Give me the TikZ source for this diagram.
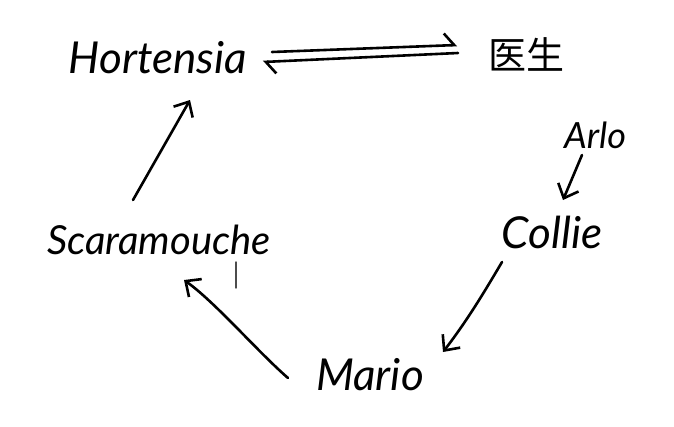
\documentclass[tikz,border=0pt]{standalone}
\usepackage{fontspec}
\setmainfont{Lato}
\newfontfamily\cjkfont{Noto Sans CJK SC}
\usetikzlibrary{arrows.meta}
\tikzset{
	person/.style={font=\fontsize{44}{48}\selectfont\itshape, inner sep=0pt},
	hanzi/.style={font=\fontsize{38}{42}\selectfont\cjkfont, inner sep=0pt},
	harp/.style={-{Straight Barb[harpoon, length=10pt, width=24pt]}},
}
\begin{document}
\begin{tikzpicture}[x=1pt, y=-1pt, >={Straight Barb[length=12pt, width=22pt]}, line width=2.6pt, line cap=round]
	\useasboundingbox[fill=white] (0,0) rectangle (674,426);
	\path
		(158,58) node[person] (hort) {Hortensia}
		(526,54) node[hanzi] (doc) {医生}
		(595,135) node[person, scale=.82] (arlo) {Arlo}
		(552,232) node[person] (collie) {Collie}
		(159,240) node[person, scale=.91] (scara) {Scaramouche}
		(370,375) node[person] (mario) {Mario}
	;
	% harpoons
	\draw[harp] ([shift={(114,-6)}]hort.center) -- ([shift={(-69,-9)}]doc.center);
	\draw[harp] ([shift={(-68,-1)}]doc.center) -- ([shift={(105,4)}]hort.center);
	% arrows
	\draw[->] ([shift={(-26,-40)}]scara.center) -- ([shift={(32,42)}]hort.center);
	\draw[->] ([shift={(-82,3)}]mario.center) .. controls (258,352) and (215,302) .. ([shift={(25,40)}]scara.center);
	\draw[->] ([shift={(-50,30)}]collie.center) .. controls (482,296) and (466,322) .. ([shift={(73,-23)}]mario.center);
	\draw[->] ([shift={(-13,20)}]arlo.center) -- ([shift={(11,-32)}]collie.center);
	\draw[line width=1.4pt, black!70] (236,262) -- (236,288);
\end{tikzpicture}
\end{document}
